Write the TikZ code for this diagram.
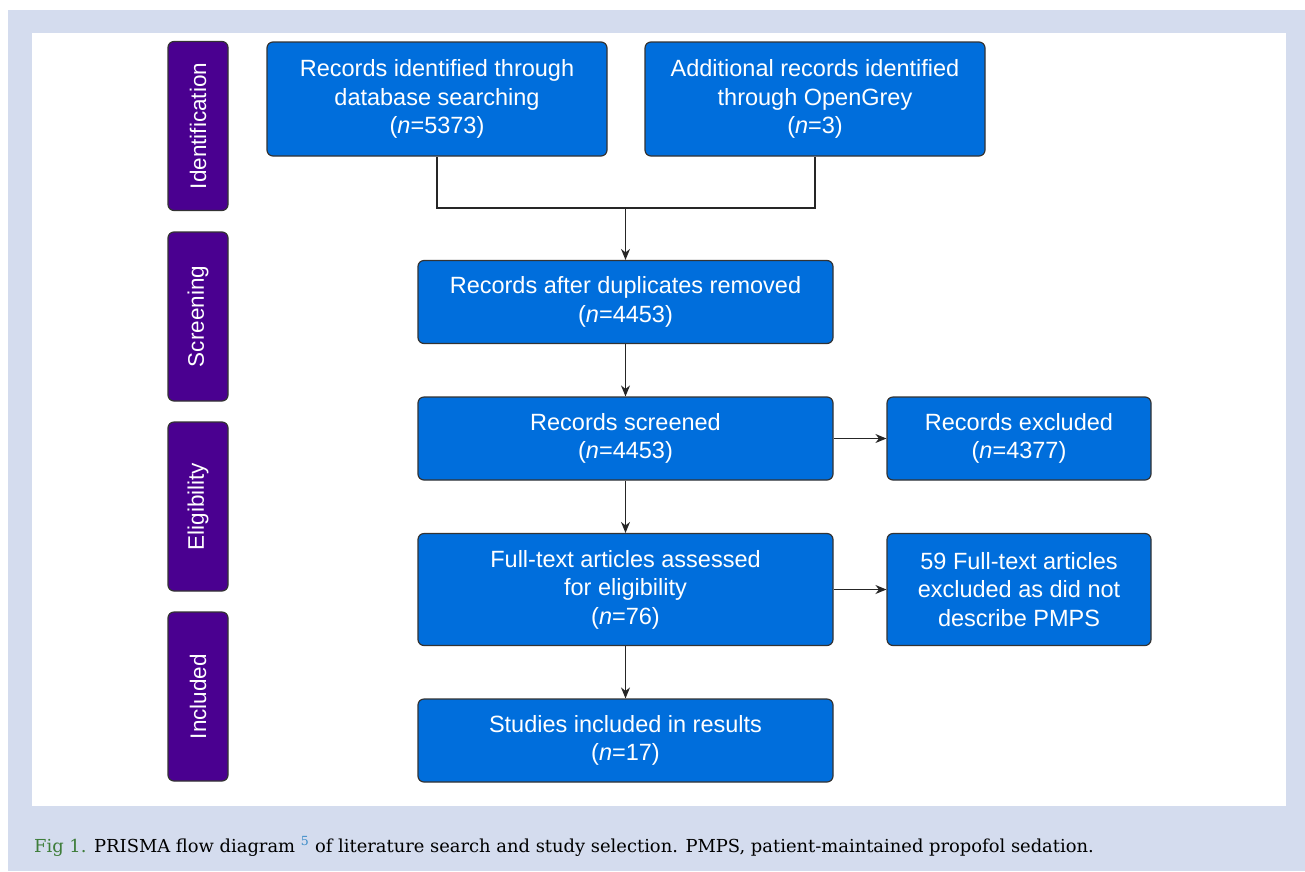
\documentclass[tikz,border=0pt]{standalone}
\usepackage{fontspec}
\setmainfont{DejaVu Serif}
\setsansfont{Liberation Sans}
\usetikzlibrary{arrows.meta}
\definecolor{fond}{RGB}{212,220,238}
\definecolor{bleu}{RGB}{0,110,220}
\definecolor{violet}{RGB}{74,0,144}
\definecolor{vert}{RGB}{62,125,58}
\definecolor{renvoi}{RGB}{60,140,200}
\begin{document}
\begin{tikzpicture}[x=1pt,y=-1pt,
  boite/.style={draw=black!80,line width=1.2pt,fill=bleu,rounded corners=6pt,text=white,align=center,inner sep=0pt,font=\sffamily\fontsize{23.5}{28.5}\selectfont},
  etape/.style={draw=black!80,line width=1.2pt,fill=violet,rounded corners=6pt,text=white,rotate=90,inner sep=0pt,minimum width=169pt,minimum height=60pt,font=\sffamily\fontsize{22.5}{27}\selectfont},
  trait/.style={line width=1.1pt,black!85},
  fleche/.style={trait,-{Stealth[length=11pt,width=9pt]}}]
\useasboundingbox (0,0) rectangle (1305,871);

%le cadre
\fill[fond] (8,10) rectangle (1305,871);
\fill[white] (32,33) rectangle (1286,806);

%les etapes
\node[etape] (ident) at (198,126) {Identification};
\node[etape] (screen) at (198,316.5) {Screening};
\node[etape] (elig) at (198,506.5) {Eligibility};
\node[etape] (incl) at (198,696.5) {Included};

%les boites
\node[boite,minimum width=340pt,minimum height=114pt] (base) at (437,99) {Records identified through\\database searching\\(\textit{n}=5373)};
\node[boite,minimum width=340pt,minimum height=114pt] (grey) at (815,99) {Additional records identified\\through OpenGrey\\(\textit{n}=3)};
\node[boite,minimum width=415pt,minimum height=83pt] (doublons) at (625.5,302) {Records after duplicates removed\\(\textit{n}=4453)};
\node[boite,minimum width=415pt,minimum height=83pt] (tries) at (625.5,438.5) {Records screened\\(\textit{n}=4453)};
\node[boite,minimum width=264pt,minimum height=83pt] (exclus) at (1019,438.5) {Records excluded\\(\textit{n}=4377)};
\node[boite,minimum width=415pt,minimum height=112pt] (textes) at (625.5,589.5) {Full-text articles assessed\\for eligibility\\(\textit{n}=76)};
\node[boite,minimum width=264pt,minimum height=112pt] (rejets) at (1019,589.5) {59 Full-text articles\\excluded as did not\\describe PMPS};
\node[boite,minimum width=415pt,minimum height=83pt] (inclus) at (625.5,740.5) {Studies included in results\\(\textit{n}=17)};

%les liens
\coordinate (jonction) at (625.5,208);
\draw[trait] (base.south) |- (jonction) -| (grey.south);
\draw[fleche] (jonction) -- (doublons.north);
\draw[fleche] (doublons) -- (tries);
\draw[fleche] (tries) -- (textes);
\draw[fleche] (textes) -- (inclus);
\draw[fleche] (tries) -- (exclus);
\draw[fleche] (textes) -- (rejets);

%la legende
\node[anchor=base west,inner sep=0pt,font=\fontsize{17.9}{20}\selectfont] (legende) at (34,852) {\textcolor{vert}{Fig 1.} PRISMA flow diagram \textsuperscript{\textcolor{renvoi}{5}} of literature search and study selection. PMPS, patient-maintained propofol sedation.};
\end{tikzpicture}
\end{document}
